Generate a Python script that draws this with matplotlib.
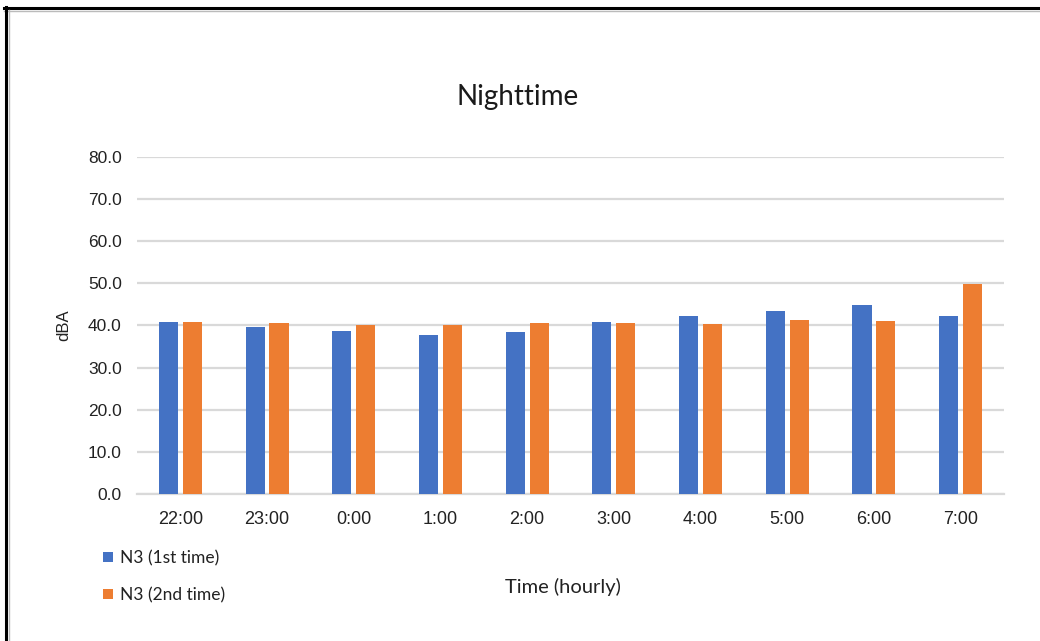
import matplotlib
matplotlib.use("Agg")
import matplotlib.pyplot as plt
import numpy as np
from matplotlib.patches import Patch
from matplotlib.lines import Line2D

hours = ["22:00", "23:00", "0:00", "1:00", "2:00", "3:00", "4:00", "5:00", "6:00", "7:00"]
first_run = [40.8, 39.6, 38.7, 37.7, 38.5, 40.8, 42.3, 43.5, 44.8, 42.3]
second_run = [40.8, 40.6, 40.1, 40.1, 40.6, 40.6, 40.4, 41.3, 41.1, 49.8]
series_names = ["N3 (1st time)", "N3 (2nd time)"]
yticks = [0, 10, 20, 30, 40, 50, 60, 70, 80]

BLUE = "#4472C4"
ORANGE = "#ED7D31"
GRID = "#D9D9D9"

fig = plt.figure(figsize=(10.4, 6.41), dpi=100)
ax = fig.add_axes([0.1317, 0.2293, 0.8337, 0.5258])

x = np.arange(len(hours))
w = 0.22
off = 0.138
ax.bar(x - off, first_run, width=w, color=BLUE, zorder=3)
ax.bar(x + off, second_run, width=w, color=ORANGE, zorder=3)

ax.set_xlim(-0.5, len(hours) - 0.5)
ax.set_ylim(0, 80)
ax.set_yticks(yticks)
ax.set_yticklabels([f"{v:.1f}" for v in yticks], fontfamily="Liberation Sans",
                   fontsize=12.5, color="#222222")
ax.set_xticks(x)
ax.set_xticklabels(hours, fontfamily="Liberation Sans", fontsize=13, color="#222222")
ax.tick_params(axis="both", length=0)
ax.tick_params(axis="y", pad=11)
ax.tick_params(axis="x", pad=12)
ax.grid(axis="y", color=GRID, linewidth=1.6, zorder=0)
for s in ["top", "right", "left"]:
    ax.spines[s].set_visible(False)
ax.spines["bottom"].set_color(GRID)
ax.spines["bottom"].set_linewidth(1.6)

ax.set_ylabel("dBA", fontfamily="Liberation Sans", fontsize=12, color="#222222", labelpad=12)

fig.text(0.498, 0.848, "Nighttime", ha="center", va="center",
         fontfamily="Lato", fontsize=20, color="#1a1a1a")
fig.text(0.541, 0.085, "Time (hourly)", ha="center", va="center",
         fontfamily="Lato", fontsize=14.5, color="#222222")

handles = [Patch(facecolor=BLUE, edgecolor="none"), Patch(facecolor=ORANGE, edgecolor="none")]
leg = fig.legend(handles, series_names, loc="upper left", bbox_to_anchor=(0.099, 0.142),
                 frameon=False, prop={"family": "Lato", "size": 12.5},
                 handlelength=0.55, handleheight=0.55, handletextpad=0.45,
                 labelspacing=1.2, borderaxespad=0, borderpad=0)
for t in leg.get_texts():
    t.set_color("#222222")

# frame edge at top and left with a soft inner shadow
fig.add_artist(Line2D([4 / 1040, 1.0], [1 - 8 / 641, 1 - 8 / 641], transform=fig.transFigure,
                      color="#000000", linewidth=2.2))
fig.add_artist(Line2D([4 / 1040, 1.0], [1 - 10.5 / 641, 1 - 10.5 / 641], transform=fig.transFigure,
                      color="#BBBBBB", linewidth=1.0))
fig.add_artist(Line2D([6 / 1040, 6 / 1040], [0, 1 - 7 / 641], transform=fig.transFigure,
                      color="#000000", linewidth=2.2))
fig.add_artist(Line2D([8.5 / 1040, 8.5 / 1040], [0, 1 - 10 / 641], transform=fig.transFigure,
                      color="#BBBBBB", linewidth=1.0))

fig.savefig("out.png", dpi=100, facecolor="white")
